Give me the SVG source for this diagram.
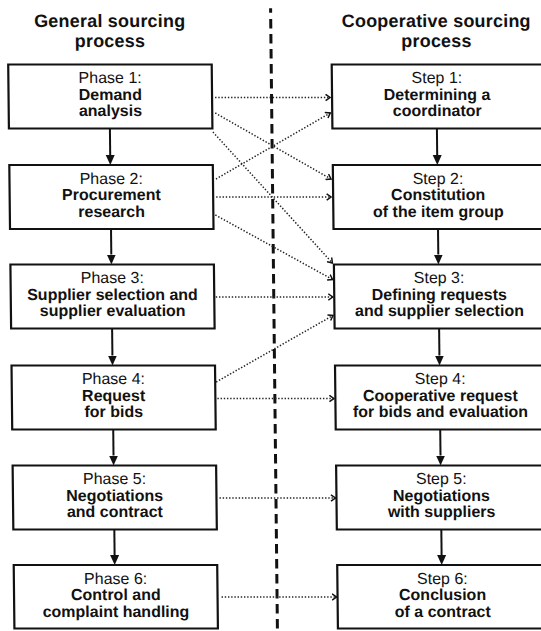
<svg xmlns="http://www.w3.org/2000/svg" width="541" height="631" viewBox="0 0 541 631">
<style>
.box{fill:#fff;stroke:#111;stroke-width:2.2}
.t{font-family:"Liberation Sans",Arial,Helvetica,sans-serif;font-size:16px;fill:#111;text-anchor:middle}
.b{font-weight:bold}
.ttl{font-size:18px;font-weight:bold;letter-spacing:0.2px}
.flow{stroke:#111;stroke-width:2;fill:none;marker-end:url(#solid)}
.dot{stroke:#222;stroke-width:1.5;stroke-dasharray:1.4 1.8;fill:none;marker-end:url(#open)}
.div{stroke:#111;stroke-width:3;stroke-dasharray:9.5 5.5;fill:none}
</style>
<defs>
<marker id="solid" markerUnits="userSpaceOnUse" viewBox="0 0 10 10" markerWidth="10" markerHeight="10" refX="0" refY="5" orient="auto"><path d="M0,0.5 L10,5 L0,9.5 z" fill="#111"/></marker>
<marker id="open" markerUnits="userSpaceOnUse" viewBox="0 0 6 8" markerWidth="6" markerHeight="8" refX="5" refY="4" orient="auto"><path d="M0.5,0.8 L5,4 L0.5,7.2" fill="none" stroke="#111" stroke-width="1.5"/></marker>
</defs>
<g transform="skewX(0.63)">
<g id="titles">
<text class="t ttl" x="109.5" y="27">General sourcing</text>
<text class="t ttl" x="109.5" y="47">process</text>
<text class="t ttl" x="436" y="27">Cooperative sourcing</text>
<text class="t ttl" x="436" y="47">process</text>
</g>
<g id="divider">
<line x1="270.5" y1="8.3" x2="270.5" y2="12.7" stroke="#111" stroke-width="3"/>
<line class="div" x1="270.5" y1="19" x2="270.5" y2="640"/>
</g>
<g id="connectors">
<line class="flow" x1="108.5" y1="128.5" x2="108.5" y2="155"/>
<line class="flow" x1="108.5" y1="229" x2="108.5" y2="254.5"/>
<line class="flow" x1="108.5" y1="328.5" x2="108.5" y2="355.5"/>
<line class="flow" x1="108.5" y1="429.5" x2="108.5" y2="455.5"/>
<line class="flow" x1="108.5" y1="529.5" x2="108.5" y2="555"/>
<line class="flow" x1="435.5" y1="128.5" x2="435.5" y2="155"/>
<line class="flow" x1="435.5" y1="229" x2="435.5" y2="254.5"/>
<line class="flow" x1="435.5" y1="328.5" x2="435.5" y2="355.5"/>
<line class="flow" x1="435.5" y1="429.5" x2="435.5" y2="455.5"/>
<line class="flow" x1="435.5" y1="529.5" x2="435.5" y2="555"/>
<path class="dot" d="M214,97.5 H329"/>
<path class="dot" d="M214,113 L329,179"/>
<path class="dot" d="M211.5,132 L329.5,263"/>
<path class="dot" d="M214,179 L329,113"/>
<path class="dot" d="M214,197 H329"/>
<path class="dot" d="M213,215 L329.5,279.5"/>
<path class="dot" d="M212.5,297 H329.5"/>
<path class="dot" d="M212,382 L329.5,315.5"/>
<path class="dot" d="M213,398.5 H329.5"/>
<path class="dot" d="M214,498 H330"/>
<path class="dot" d="M215,597 H330"/>
</g>
<g id="phase1"><rect class="box" x="7.5" y="64.5" width="203.5" height="64"/>
<text class="t" x="109.25" y="83.5">Phase 1:</text><text class="t b" x="109.25" y="100">Demand</text><text class="t b" x="109.25" y="116.5">analysis</text></g>
<g id="phase2"><rect class="box" x="7.5" y="165" width="203.5" height="64"/>
<text class="t" x="109.25" y="184">Phase 2:</text><text class="t b" x="109.25" y="200.5">Procurement</text><text class="t b" x="109.25" y="217">research</text></g>
<g id="phase3"><rect class="box" x="7.5" y="264.5" width="203.5" height="64"/>
<text class="t" x="109.25" y="283.5">Phase 3:</text><text class="t b" x="109.25" y="300">Supplier selection and</text><text class="t b" x="109.25" y="316.5">supplier evaluation</text></g>
<g id="phase4"><rect class="box" x="7.5" y="365.5" width="203.5" height="64"/>
<text class="t" x="109.25" y="384.5">Phase 4:</text><text class="t b" x="109.25" y="401">Request</text><text class="t b" x="109.25" y="417.5">for bids</text></g>
<g id="phase5"><rect class="box" x="7.5" y="465.5" width="203.5" height="64"/>
<text class="t" x="109.25" y="484.5">Phase 5:</text><text class="t b" x="109.25" y="501">Negotiations</text><text class="t b" x="109.25" y="517.5">and contract</text></g>
<g id="phase6"><rect class="box" x="7.5" y="565" width="203.5" height="63.5"/>
<text class="t" x="109.25" y="584">Phase 6:</text><text class="t b" x="109.25" y="600.5">Control and</text><text class="t b" x="109.25" y="617">complaint handling</text></g>
<g id="step1"><rect class="box" x="331" y="64.5" width="216" height="64"/>
<text class="t" x="436" y="83.5">Step 1:</text><text class="t b" x="436" y="100">Determining a</text><text class="t b" x="436" y="116.5">coordinator</text></g>
<g id="step2"><rect class="box" x="331" y="165" width="216" height="64"/>
<text class="t" x="436" y="184">Step 2:</text><text class="t b" x="436" y="200.5">Constitution</text><text class="t b" x="436" y="217">of the item group</text></g>
<g id="step3"><rect class="box" x="331" y="264.5" width="216" height="64"/>
<text class="t" x="436" y="283.5">Step 3:</text><text class="t b" x="436" y="300">Defining requests</text><text class="t b" x="436" y="316.5">and supplier selection</text></g>
<g id="step4"><rect class="box" x="331" y="365.5" width="216" height="64"/>
<text class="t" x="436" y="384.5">Step 4:</text><text class="t b" x="436" y="401">Cooperative request</text><text class="t b" x="436" y="417.5">for bids and evaluation</text></g>
<g id="step5"><rect class="box" x="331" y="465.5" width="216" height="64"/>
<text class="t" x="436" y="484.5">Step 5:</text><text class="t b" x="436" y="501">Negotiations</text><text class="t b" x="436" y="517.5">with suppliers</text></g>
<g id="step6"><rect class="box" x="331" y="565" width="216" height="63.5"/>
<text class="t" x="436" y="584">Step 6:</text><text class="t b" x="436" y="600.5">Conclusion</text><text class="t b" x="436" y="617">of a contract</text></g>
</g>
</svg>
